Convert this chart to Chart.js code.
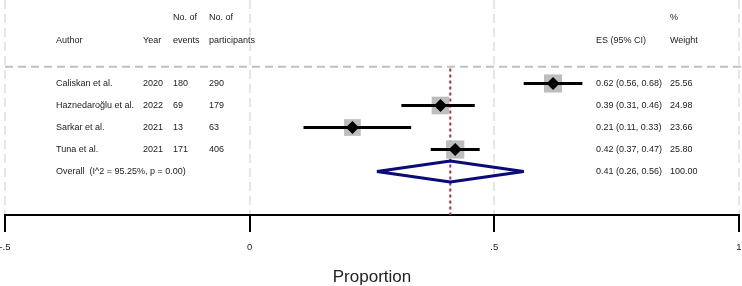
<!DOCTYPE html>
<html lang="en">
<head>
<meta charset="UTF-8">
<title>Forest plot - Proportion</title>
<script src="https://cdn.jsdelivr.net/npm/chart.js@4.4.0/dist/chart.umd.min.js"></script>
<style>
    body {
        margin: 0;
        padding: 0;
        background: #ffffff;
    }
    .chart-box {
        position: relative;
        width: 742px;
        height: 286px;
    }
</style>
</head>
<body>
<div class="chart-box">
    <canvas id="forest"></canvas>
</div>
<script>
    // study data
    const authors = ['Caliskan et al.', 'Haznedaroğlu et al.', 'Sarkar et al.', 'Tuna et al.'];
    const years = ['2020', '2022', '2021', '2021'];
    const events = [180, 69, 13, 171];
    const participants = [290, 179, 63, 406];
    const es = [0.62, 0.39, 0.21, 0.42];
    const lower = [0.56, 0.31, 0.11, 0.37];
    const upper = [0.68, 0.46, 0.33, 0.47];
    const weights = [25.56, 24.98, 23.66, 25.80];

    // pooled estimate
    const overallLabel = 'Overall  (I^2 = 95.25%, p = 0.00)';
    const overallEs = 0.41;
    const overallCi = [0.26, 0.56];
    const overallWeight = 100.00;

    // x axis ticks
    const xTicks = [-0.5, 0, 0.5, 1];
    const xTickLabels = ['-.5', '0', '.5', '1'];

    // row positions (row index on the y scale, 0 = first study)
    const headRow1 = -3.0;
    const headRow2 = -1.95;
    const dividerRow = -0.76;
    const overallRow = 4;
    const yMin = -3.795;
    const yMax = 5.977;

    const textFont = '9px "Liberation Sans", Arial, sans-serif';
    const textColor = '#222';
    const colX = {author: 56, year: 143, events: 173, part: 209, es: 596, weight: 670};

    const fmtCi = (e, l, u) => e.toFixed(2) + ' (' + l.toFixed(2) + ', ' + u.toFixed(2) + ')';

    // table text + divider line
    const tablePlugin = {
        id: 'forestTable',
        beforeDatasetsDraw(chart) {
            const ctx = chart.ctx;
            const y = chart.scales.y;
            const py = y.getPixelForValue(dividerRow);
            ctx.save();
            ctx.strokeStyle = '#c0c0c0';
            ctx.lineWidth = 2;
            ctx.setLineDash([8, 5]);
            ctx.beginPath();
            ctx.moveTo(chart.chartArea.left, py);
            ctx.lineTo(chart.width, py);
            ctx.stroke();
            ctx.restore();
        },
        afterDraw(chart) {
            const ctx = chart.ctx;
            const y = chart.scales.y;
            ctx.save();
            ctx.font = textFont;
            ctx.fillStyle = textColor;
            ctx.textBaseline = 'middle';
            ctx.textAlign = 'left';

            const h1 = y.getPixelForValue(headRow1);
            const h2 = y.getPixelForValue(headRow2);
            ctx.fillText('No. of', colX.events, h1);
            ctx.fillText('No. of', colX.part, h1);
            ctx.fillText('%', colX.weight, h1);
            ctx.fillText('Author', colX.author, h2);
            ctx.fillText('Year', colX.year, h2);
            ctx.fillText('events', colX.events, h2);
            ctx.fillText('participants', colX.part, h2);
            ctx.fillText('ES (95% CI)', colX.es, h2);
            ctx.fillText('Weight', colX.weight, h2);

            authors.forEach((a, i) => {
                const py = y.getPixelForValue(i);
                ctx.fillText(a, colX.author, py);
                ctx.fillText(years[i], colX.year, py);
                ctx.fillText(String(events[i]), colX.events, py);
                ctx.fillText(String(participants[i]), colX.part, py);
                ctx.fillText(fmtCi(es[i], lower[i], upper[i]), colX.es, py);
                ctx.fillText(weights[i].toFixed(2), colX.weight, py);
            });

            const po = y.getPixelForValue(overallRow);
            ctx.fillText(overallLabel, colX.author, po);
            ctx.fillText(fmtCi(overallEs, overallCi[0], overallCi[1]), colX.es, po);
            ctx.fillText(overallWeight.toFixed(2), colX.weight, po);
            ctx.restore();
        }
    };

    const ciSets = es.map((e, i) => ({
        type: 'line',
        data: [{x: lower[i], y: i}, {x: upper[i], y: i}],
        borderColor: '#000',
        borderWidth: 3,
        pointRadius: 0,
        order: 3
    }));

    const dh = 0.48;
    const datasets = [
        {
            // pooled estimate reference line
            type: 'line',
            data: [{x: overallEs, y: dividerRow + 0.08}, {x: overallEs, y: yMax}],
            borderColor: '#a8323e',
            borderWidth: 2,
            borderDash: [3, 3],
            pointRadius: 0,
            order: 6
        },
        {
            // weight boxes
            type: 'scatter',
            data: es.map((e, i) => ({x: e, y: i})),
            pointStyle: 'rect',
            pointRadius: weights.map(w => w * 0.5),
            backgroundColor: '#bdbdbd',
            borderWidth: 0,
            order: 5
        },
        ...ciSets,
        {
            // point estimates
            type: 'scatter',
            data: es.map((e, i) => ({x: e, y: i})),
            pointStyle: 'rectRot',
            pointRadius: 6.5,
            backgroundColor: '#000',
            borderWidth: 0,
            order: 1
        },
        {
            // pooled diamond
            type: 'line',
            data: [
                {x: overallCi[0], y: overallRow},
                {x: overallEs, y: overallRow - dh},
                {x: overallCi[1], y: overallRow},
                {x: overallEs, y: overallRow + dh},
                {x: overallCi[0], y: overallRow}
            ],
            borderColor: '#0a0a78',
            borderWidth: 3,
            borderJoinStyle: 'bevel',
            pointRadius: 0,
            fill: false,
            order: 2
        }
    ];

    new Chart(document.getElementById('forest'), {
        type: 'scatter',
        data: {datasets},
        options: {
            responsive: true,
            maintainAspectRatio: false,
            animation: false,
            layout: {autoPadding: false, padding: 0},
            plugins: {
                legend: {display: false},
                tooltip: {enabled: false}
            },
            scales: {
                x: {
                    type: 'linear',
                    min: -0.5,
                    max: 1,
                    afterBuildTicks(scale) {
                        scale.ticks = xTicks.map(v => ({value: v}));
                    },
                    afterFit(scale) {
                        scale.height = 71;
                        scale.paddingLeft = 5;
                        scale.paddingRight = 3;
                    },
                    ticks: {
                        callback: (v) => xTickLabels[xTicks.indexOf(v)],
                        color: '#222',
                        font: {family: '"Liberation Sans", Arial, sans-serif', size: 9.5},
                        padding: 10,
                        maxRotation: 0
                    },
                    grid: {
                        color: '#e6e6e6',
                        lineWidth: 2,
                        tickColor: '#000',
                        tickLength: 17,
                        tickWidth: 2
                    },
                    border: {
                        display: true,
                        color: '#000',
                        width: 2,
                        dash: [9, 5]
                    },
                    title: {
                        display: true,
                        text: 'Proportion',
                        color: '#222',
                        font: {family: '"Liberation Sans", Arial, sans-serif', size: 17, lineHeight: 1},
                        padding: {top: 0, bottom: 0}
                    }
                },
                y: {
                    type: 'linear',
                    display: false,
                    reverse: true,
                    min: yMin,
                    max: yMax
                }
            }
        },
        plugins: [tablePlugin]
    });
</script>
</body>
</html>
